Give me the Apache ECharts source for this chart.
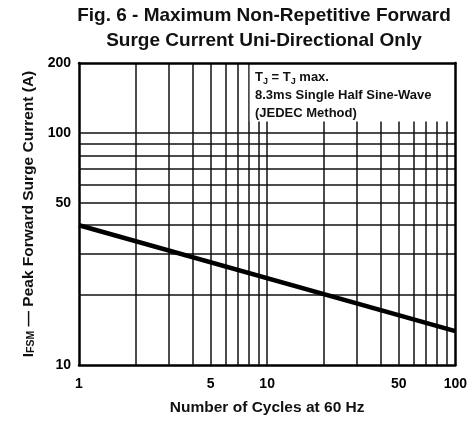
<!DOCTYPE html>
<html><head><meta charset="utf-8">
<script src="https://cdn.jsdelivr.net/npm/echarts@6/dist/echarts.min.js"></script>
<style>html,body{margin:0;padding:0;background:#fff}#c{width:470px;height:421px}</style>
</head><body><div id="c"></div>
<script>
const titleLines = ['Fig. 6 - Maximum Non-Repetitive Forward', 'Surge Current Uni-Directional Only'];
const xAxisTitle = 'Number of Cycles at 60 Hz';
const yAxisTitle = 'I{sub|FSM} \u2014 Peak Forward Surge Current (A)';
const noteLines = ['T{sub|J} = T{sub|J} max.', '8.3ms Single Half Sine-Wave', '(JEDEC Method)'];
const cycles = [1, 100];
const surgeCurrent = [40, 14];
const xTickLabels = [1, 5, 10, 50, 100];
const yTickLabels = [10, 50, 100, 200];
const xGridValues = [2, 3, 4, 5, 6, 7, 8, 9, 10, 20, 30, 40, 50, 60, 70, 80, 90];
const yGridValues = [20, 30, 40, 50, 60, 70, 80, 90, 100];
const noteBoxX = [8.08, 100];
const noteBoxY = [112, 200];

const FONT = "'Liberation Sans', Arial, sans-serif";
const chart = echarts.init(document.getElementById('c'), null, {renderer: 'canvas'});
const lineData = cycles.map((c, i) => [c, surgeCurrent[i]]);
const gridLines = [
  ...xGridValues.map(v => ({xAxis: v})),
  ...yGridValues.map(v => ({yAxis: v}))
];
const labelStyle = {color: '#000', fontFamily: FONT, fontWeight: 'bold', fontSize: 14};

chart.setOption({
  animation: false,
  backgroundColor: '#fff',
  graphic: [
    {type: 'text', x: 264, y: 3, z: 100, style: {text: titleLines.join('\n'), textAlign: 'center', fill: '#111', font: "bold 19px " + FONT, lineHeight: 25}},
    {type: 'text', x: 255, y: 68, z: 100, style: {text: noteLines.join('\n'), fill: '#111', font: "bold 13px " + FONT, lineHeight: 18,
      rich: {sub: {fontSize: 9, fontWeight: 'bold', fontFamily: FONT, verticalAlign: 'bottom', padding: [6, 0, 0, 0], fill: '#111'}}}}
  ],
  grid: {left: 79, right: 13, top: 63, bottom: 56},
  xAxis: [{
    type: 'log', logBase: 10, min: 1, max: 100,
    name: xAxisTitle, nameLocation: 'middle', nameGap: 35,
    nameTextStyle: {color: '#111', fontFamily: FONT, fontWeight: 'bold', fontSize: 15.5},
    axisLine: {lineStyle: {color: '#000', width: 2.5}},
    axisTick: {show: false},
    splitLine: {show: false},
    axisLabel: Object.assign({margin: 12, customValues: xTickLabels}, labelStyle)
  }, {
    type: 'log', logBase: 10, min: 1, max: 100, position: 'top', z: 10,
    axisLine: {show: true, lineStyle: {color: '#000', width: 2.5}},
    axisTick: {show: false}, axisLabel: {show: false}, splitLine: {show: false}
  }],
  yAxis: [{
    type: 'log', logBase: 10, min: 10, max: 200,
    name: yAxisTitle, nameLocation: 'middle', nameGap: 42,
    nameTextStyle: {color: '#111', fontFamily: FONT, fontWeight: 'bold', fontSize: 15.5,
      rich: {sub: {fontSize: 10.5, fontFamily: FONT, fontWeight: 'bold', color: '#111', verticalAlign: 'bottom', padding: [6, 0, 0, 0]}}},
    axisLine: {show: true, lineStyle: {color: '#000', width: 2.5}},
    axisTick: {show: false},
    splitLine: {show: false},
    axisLabel: Object.assign({margin: 8, customValues: yTickLabels}, labelStyle)
  }, {
    type: 'log', logBase: 10, min: 10, max: 200, position: 'right', z: 10,
    axisLine: {show: true, lineStyle: {color: '#000', width: 2.5}},
    axisTick: {show: false}, axisLabel: {show: false}, splitLine: {show: false}
  }],
  series: [{
    type: 'line', data: [], z: 1, silent: true,
    markLine: {silent: true, z: 1, symbol: 'none', label: {show: false},
      lineStyle: {color: '#111', width: 1.5, type: 'solid'}, data: gridLines}
  }, {
    type: 'line', data: [], z: 3, silent: true,
    markArea: {silent: true, z: 3, itemStyle: {color: '#fff'},
      data: [[{coord: [noteBoxX[0], noteBoxY[0]]}, {coord: [noteBoxX[1], noteBoxY[1]]}]]}
  }, {
    type: 'line', data: lineData, z: 5, symbol: 'none',
    lineStyle: {color: '#000', width: 4.5}
  }]
});
</script></body></html>
